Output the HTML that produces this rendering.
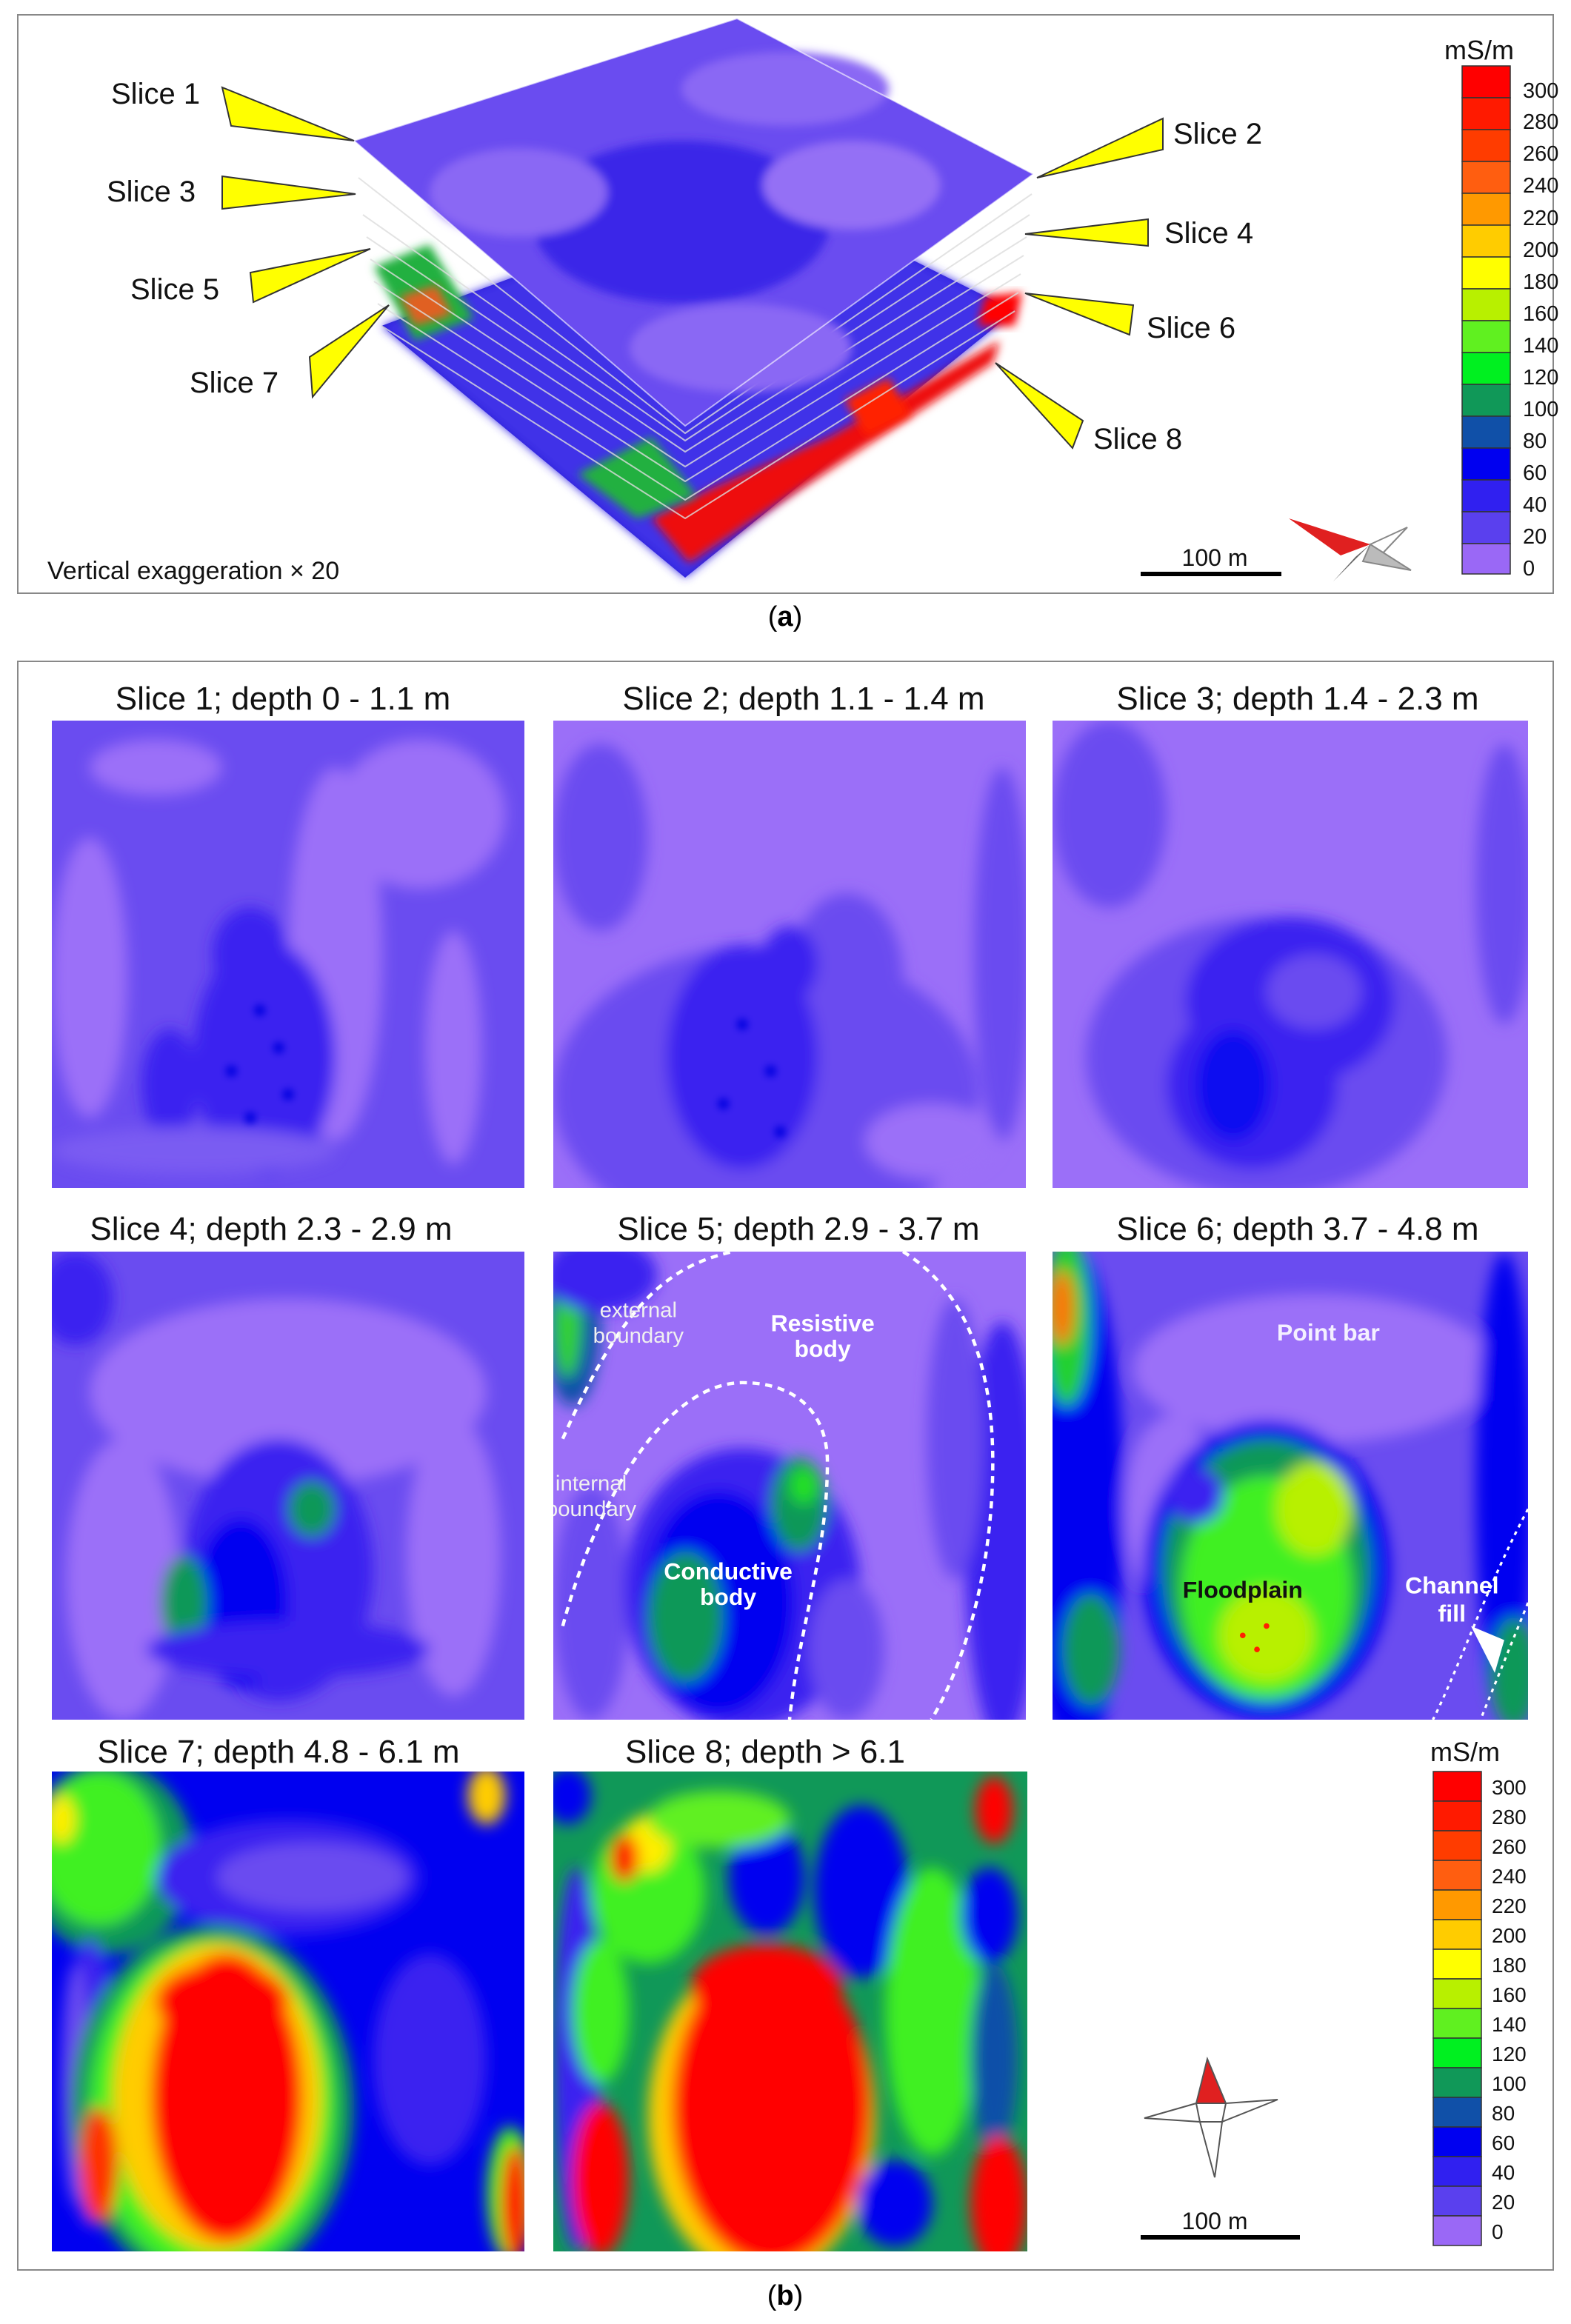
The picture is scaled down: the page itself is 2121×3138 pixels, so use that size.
<!DOCTYPE html>
<html><head><meta charset="utf-8"><style>
html,body{margin:0;padding:0;background:#fff}
svg text{font-family:"Liberation Sans",sans-serif}
</style></head><body>
<svg width="2121" height="3133" viewBox="0 0 2121 3133" xmlns="http://www.w3.org/2000/svg">
<defs>
<filter id="b" x="-20%" y="-20%" width="140%" height="140%"><feGaussianBlur stdDeviation="1.6"/></filter>
<filter id="b2" x="-20%" y="-20%" width="140%" height="140%"><feGaussianBlur stdDeviation="0.8"/></filter>
<filter id="bb" x="-20%" y="-20%" width="140%" height="140%"><feGaussianBlur stdDeviation="6"/></filter>
</defs>
<rect width="2121" height="3133" fill="#fff"/>
<!-- Panel a -->
<rect x="24" y="20" width="2073" height="781" fill="none" stroke="#888" stroke-width="2"/>
<text x="1060" y="845" font-size="38" text-anchor="middle" font-family="Liberation Serif">(<tspan font-weight="bold">a</tspan>)</text>
<!-- 3D stack -->
<g>
<polygon points="515,440 1030,250 1370,420 925,780" fill="#2a20d8"/>
<polygon points="515,440 1030,250 1370,420 925,780" fill="#4030e8" filter="url(#bb)"/>
<polygon points="880,700 960,660 1120,590 1350,460 1340,490 1020,700 930,760" fill="#ee1010" filter="url(#bb)"/>
<polygon points="780,640 880,590 940,670 860,700" fill="#20b040" filter="url(#bb)"/>
<polygon points="1140,540 1200,510 1230,560 1170,590" fill="#ff2000" filter="url(#bb)"/>
<polygon points="505,360 580,330 640,430 560,460" fill="#20b040" filter="url(#bb)"/>
<polygon points="540,400 590,385 610,425 560,440" fill="#e06020" filter="url(#bb)"/>
<polygon points="1330,400 1380,395 1370,440 1320,440" fill="#ff0000" filter="url(#bb)"/>
<g fill="none" stroke="#ddd" stroke-width="2" opacity=".8">
<polyline points="515,440 925,700 1370,420"/><polyline points="510,410 925,675 1375,395"/><polyline points="505,380 925,650 1378,370"/><polyline points="500,350 925,630 1382,345"/><polyline points="495,320 925,610 1386,320"/><polyline points="490,290 925,595 1390,290"/><polyline points="484,240 925,585 1393,262"/>
</g>
<polygon points="478,190 995,25 1395,235 925,575" fill="#6a4cf0"/>
<g filter="url(#bb)">
<ellipse cx="920" cy="300" rx="200" ry="110" fill="#3a28e8"/>
<ellipse cx="1150" cy="250" rx="120" ry="60" fill="#9470f5"/>
<ellipse cx="700" cy="260" rx="120" ry="60" fill="#8a68f4"/>
<ellipse cx="1000" cy="470" rx="150" ry="60" fill="#8a68f4"/>
<ellipse cx="1060" cy="120" rx="140" ry="50" fill="#8a68f4"/>
</g>
<polygon points="478,190 995,25 1395,235 925,575" fill="none" stroke="#fff" stroke-width="2" opacity=".6"/>
</g>
<!-- callouts -->
<g fill="#ffff00" stroke="#333" stroke-width="2">
<polygon points="300,118 312,170 478,190"/>
<polygon points="300,238 300,282 480,262"/>
<polygon points="338,368 342,408 500,336"/>
<polygon points="418,482 422,536 525,412"/>
<polygon points="1570,160 1570,202 1400,240"/>
<polygon points="1550,296 1550,332 1384,316"/>
<polygon points="1530,412 1525,452 1384,396"/>
<polygon points="1462,568 1448,605 1344,490"/>
</g>
<g font-size="40" fill="#111">
<text x="150" y="140">Slice 1</text>
<text x="144" y="272">Slice 3</text>
<text x="176" y="404">Slice 5</text>
<text x="256" y="530">Slice 7</text>
<text x="1584" y="194">Slice 2</text>
<text x="1572" y="328">Slice 4</text>
<text x="1548" y="456">Slice 6</text>
<text x="1476" y="606">Slice 8</text>
</g>
<text x="64" y="782" font-size="34" fill="#111">Vertical exaggeration × 20</text>
<text x="1640" y="764" font-size="32" text-anchor="middle" fill="#111">100 m</text>
<rect x="1540" y="772" width="190" height="6" fill="#000"/>
<g>
<polygon points="1740,700 1850,735 1810,750" fill="#e02020"/>
<polygon points="1850,735 1900,712 1862,752" fill="#fff" stroke="#888" stroke-width="2"/>
<polygon points="1850,735 1905,770 1840,758" fill="#bbb" stroke="#888" stroke-width="2"/>
<polygon points="1850,735 1800,785 1830,752" fill="#666"/>
</g>
<!-- legend a -->
<text x="1997" y="80" font-size="36" text-anchor="middle" fill="#111">mS/m</text>
<g stroke="#333" stroke-width="1.5">
<rect x="1974" y="89" width="65" height="43" fill="#ff0000"/>
<rect x="1974" y="132" width="65" height="43" fill="#ff1a00"/>
<rect x="1974" y="175" width="65" height="43" fill="#ff3c00"/>
<rect x="1974" y="218" width="65" height="43" fill="#ff5e10"/>
<rect x="1974" y="261" width="65" height="43" fill="#ff9900"/>
<rect x="1974" y="304" width="65" height="43" fill="#ffcc00"/>
<rect x="1974" y="347" width="65" height="43" fill="#ffff00"/>
<rect x="1974" y="390" width="65" height="43" fill="#b8f000"/>
<rect x="1974" y="433" width="65" height="43" fill="#60f020"/>
<rect x="1974" y="476" width="65" height="43" fill="#00f020"/>
<rect x="1974" y="519" width="65" height="43" fill="#109858"/>
<rect x="1974" y="562" width="65" height="43" fill="#1050a8"/>
<rect x="1974" y="605" width="65" height="43" fill="#0000f0"/>
<rect x="1974" y="648" width="65" height="43" fill="#3020f0"/>
<rect x="1974" y="691" width="65" height="43" fill="#5a40ee"/>
<rect x="1974" y="734" width="65" height="41" fill="#9a68f6"/>
</g>
<g font-size="29" fill="#111">
<text x="2056" y="132">300</text><text x="2056" y="174">280</text><text x="2056" y="217">260</text><text x="2056" y="260">240</text><text x="2056" y="304">220</text><text x="2056" y="347">200</text><text x="2056" y="390">180</text><text x="2056" y="433">160</text><text x="2056" y="476">140</text><text x="2056" y="519">120</text><text x="2056" y="562">100</text><text x="2056" y="605">80</text><text x="2056" y="648">60</text><text x="2056" y="691">40</text><text x="2056" y="734">20</text><text x="2056" y="777">0</text>
</g>

<!-- Panel b -->
<rect x="24" y="893" width="2073" height="2172" fill="none" stroke="#888" stroke-width="2"/>
<text x="1060" y="3112" font-size="38" text-anchor="middle" font-family="Liberation Serif">(<tspan font-weight="bold">b</tspan>)</text>
<g font-size="44" fill="#111" text-anchor="middle">
<text x="382" y="958">Slice 1; depth 0 - 1.1 m</text>
<text x="1085" y="958">Slice 2; depth 1.1 - 1.4 m</text>
<text x="1752" y="958">Slice 3; depth 1.4 - 2.3 m</text>
<text x="366" y="1674">Slice 4; depth 2.3 - 2.9 m</text>
<text x="1078" y="1674">Slice 5; depth 2.9 - 3.7 m</text>
<text x="1752" y="1674">Slice 6; depth 3.7 - 4.8 m</text>
<text x="376" y="2380">Slice 7; depth 4.8 - 6.1 m</text>
<text x="1033" y="2380">Slice 8; depth &gt; 6.1</text>
</g>

<!-- Map1 -->
<svg x="70" y="973" width="638" height="631" viewBox="0 0 100 100" preserveAspectRatio="none">
<rect width="100" height="100" fill="#6a4cf0"/>
<g filter="url(#b)">
<ellipse cx="78" cy="20" rx="18" ry="16" fill="#9b6ff8"/>
<ellipse cx="60" cy="50" rx="10" ry="40" fill="#9b6ff8"/>
<ellipse cx="85" cy="70" rx="6" ry="25" fill="#9b6ff8"/>
<ellipse cx="8" cy="55" rx="8" ry="30" fill="#9b6ff8"/>
<ellipse cx="22" cy="10" rx="14" ry="6" fill="#9b6ff8"/>
<ellipse cx="45" cy="72" rx="15" ry="25" fill="#3a22f0"/>
<ellipse cx="42" cy="50" rx="8" ry="10" fill="#3a22f0"/>
<ellipse cx="25" cy="78" rx="6" ry="12" fill="#3a22f0"/>
<ellipse cx="30" cy="92" rx="30" ry="5" fill="#7a5cf2"/>
</g>
<g fill="#0000e0" filter="url(#b2)"><circle cx="44" cy="62" r="1.2"/><circle cx="48" cy="70" r="1.2"/><circle cx="38" cy="75" r="1.2"/><circle cx="50" cy="80" r="1.2"/><circle cx="42" cy="85" r="1.2"/></g>
</svg>
<!-- Map2 -->
<svg x="747" y="973" width="638" height="631" viewBox="0 0 100 100" preserveAspectRatio="none">
<rect width="100" height="100" fill="#9b6ff8"/>
<g filter="url(#b)">
<ellipse cx="45" cy="80" rx="45" ry="32" fill="#6a4cf0"/>
<ellipse cx="62" cy="55" rx="12" ry="18" fill="#6a4cf0"/>
<ellipse cx="10" cy="25" rx="10" ry="20" fill="#6a4cf0"/>
<ellipse cx="95" cy="50" rx="6" ry="40" fill="#6a4cf0"/>
<ellipse cx="40" cy="72" rx="16" ry="24" fill="#3a22f0"/>
<ellipse cx="50" cy="52" rx="6" ry="8" fill="#3a22f0"/>
<ellipse cx="80" cy="90" rx="14" ry="8" fill="#9b6ff8"/>
</g>
<g fill="#0000e0" filter="url(#b2)"><circle cx="40" cy="65" r="1.2"/><circle cx="46" cy="75" r="1.2"/><circle cx="36" cy="82" r="1.2"/><circle cx="48" cy="88" r="1.2"/></g>
</svg>
<!-- Map3 -->
<svg x="1421" y="973" width="642" height="631" viewBox="0 0 100 100" preserveAspectRatio="none">
<rect width="100" height="100" fill="#9b6ff8"/>
<g filter="url(#b)">
<ellipse cx="12" cy="20" rx="12" ry="20" fill="#6a4cf0"/>
<ellipse cx="45" cy="72" rx="38" ry="30" fill="#6a4cf0"/>
<ellipse cx="95" cy="35" rx="6" ry="30" fill="#6a4cf0"/>
<ellipse cx="50" cy="60" rx="22" ry="18" fill="#3a22f0"/>
<ellipse cx="42" cy="78" rx="18" ry="18" fill="#3a22f0"/>
<ellipse cx="38" cy="78" rx="8" ry="12" fill="#1010f0"/>
<ellipse cx="55" cy="58" rx="10" ry="8" fill="#6a4cf0"/>
</g>
</svg>
<!-- Map4 -->
<svg x="70" y="1690" width="638" height="632" viewBox="0 0 100 100" preserveAspectRatio="none">
<rect width="100" height="100" fill="#6a4cf0"/>
<g filter="url(#b)">
<ellipse cx="50" cy="30" rx="42" ry="20" fill="#9b6ff8"/>
<ellipse cx="15" cy="70" rx="12" ry="30" fill="#9b6ff8"/>
<ellipse cx="85" cy="65" rx="10" ry="30" fill="#9b6ff8"/>
<ellipse cx="5" cy="10" rx="8" ry="10" fill="#3a22f0"/>
<ellipse cx="48" cy="68" rx="20" ry="28" fill="#3a22f0"/>
<ellipse cx="40" cy="75" rx="10" ry="18" fill="#0000f0"/>
<ellipse cx="28" cy="75" rx="5" ry="10" fill="#109858"/>
<ellipse cx="55" cy="55" rx="5" ry="6" fill="#109858"/>
<ellipse cx="50" cy="85" rx="30" ry="6" fill="#3a22f0"/>
</g>
</svg>
<!-- Map5 -->
<svg x="747" y="1690" width="638" height="632" viewBox="0 0 100 100" preserveAspectRatio="none">
<rect width="100" height="100" fill="#9b6ff8"/>
<g filter="url(#b)">
<ellipse cx="4" cy="15" rx="6" ry="18" fill="#1050a8"/>
<ellipse cx="3" cy="15" rx="3" ry="12" fill="#30d030"/>
<ellipse cx="10" cy="5" rx="12" ry="8" fill="#3a22f0"/>
<ellipse cx="95" cy="60" rx="8" ry="45" fill="#3a22f0"/>
<ellipse cx="85" cy="40" rx="6" ry="30" fill="#6a4cf0"/>
<ellipse cx="8" cy="75" rx="8" ry="25" fill="#6a4cf0"/>
<ellipse cx="40" cy="72" rx="25" ry="30" fill="#3a22f0"/>
<ellipse cx="35" cy="75" rx="16" ry="24" fill="#0000f0"/>
<ellipse cx="28" cy="78" rx="8" ry="14" fill="#109858"/>
<ellipse cx="52" cy="54" rx="6" ry="10" fill="#109858"/>
<ellipse cx="53" cy="50" rx="3" ry="4" fill="#20e020"/>
<ellipse cx="62" cy="85" rx="8" ry="15" fill="#6a4cf0"/>
</g>
<g fill="none" stroke="#fff" stroke-width="0.7" stroke-dasharray="1.5,1.2">
<path d="M2,40 C15,10 25,3 38,0"/>
<path d="M2,80 C10,50 25,28 40,28 C52,28 58,35 58,45 C58,65 52,80 50,100"/>
<path d="M74,0 C90,10 93,30 93,45 C93,70 86,90 80,100"/>
</g>
<g fill="#fff" font-size="4.6" text-anchor="middle">
<text x="18" y="14" fill="#f0f0f0">external</text><text x="18" y="19.5" fill="#f0f0f0">boundary</text>
<text x="57" y="17" font-weight="bold" font-size="5">Resistive</text><text x="57" y="22.5" font-weight="bold" font-size="5">body</text>
<text x="8" y="51" fill="#f0f0f0">internal</text><text x="8" y="56.5" fill="#f0f0f0">boundary</text>
<text x="37" y="70" font-weight="bold" font-size="5">Conductive</text><text x="37" y="75.5" font-weight="bold" font-size="5">body</text>
</g>
</svg>
<!-- Map6 -->
<svg x="1421" y="1690" width="642" height="632" viewBox="0 0 100 100" preserveAspectRatio="none">
<rect width="100" height="100" fill="#6a4cf0"/>
<g filter="url(#b)">
<ellipse cx="5" cy="55" rx="10" ry="55" fill="#0000f0"/>
<ellipse cx="3" cy="15" rx="5" ry="18" fill="#20d030"/>
<ellipse cx="2" cy="12" rx="2.5" ry="8" fill="#ff7000"/>
<ellipse cx="55" cy="25" rx="38" ry="16" fill="#9b6ff8"/>
<ellipse cx="25" cy="55" rx="10" ry="20" fill="#9b6ff8"/>
<ellipse cx="95" cy="50" rx="6" ry="50" fill="#0000f0"/>
<ellipse cx="97" cy="90" rx="5" ry="12" fill="#109858"/>
<ellipse cx="45" cy="68" rx="26" ry="32" fill="#0000f0"/>
<ellipse cx="45" cy="68" rx="22" ry="28" fill="#109858"/>
<ellipse cx="45" cy="72" rx="18" ry="24" fill="#40f020"/>
<ellipse cx="55" cy="55" rx="8" ry="10" fill="#b8f000"/>
<ellipse cx="45" cy="82" rx="10" ry="10" fill="#b8f000"/>
<ellipse cx="30" cy="52" rx="6" ry="6" fill="#3a22f0"/>
<ellipse cx="8" cy="85" rx="6" ry="12" fill="#109858"/>
</g>
<g fill="#ff2000"><circle cx="45" cy="80" r="0.6"/><circle cx="43" cy="85" r="0.6"/><circle cx="40" cy="82" r="0.6"/></g>
<g fill="none" stroke="#fff" stroke-width="0.5" stroke-dasharray="0.8,1">
<path d="M100,55 C92,70 85,90 80,100"/><path d="M100,75 C96,85 92,95 90,100"/>
</g>
<polygon points="88,80 95,83 93,90" fill="#fff"/>
<g font-weight="bold" text-anchor="middle" font-size="5">
<text x="58" y="19" fill="#f4f0ff">Point bar</text>
<text x="40" y="74" fill="#111">Floodplain</text>
<text x="84" y="73" fill="#fff">Channel</text><text x="84" y="79" fill="#fff">fill</text>
</g>
</svg>
<!-- Map7 -->
<svg x="70" y="2392" width="638" height="648" viewBox="0 0 100 100" preserveAspectRatio="none">
<rect width="100" height="100" fill="#0000f0"/>
<g filter="url(#b)">
<ellipse cx="12" cy="18" rx="18" ry="20" fill="#109858"/>
<ellipse cx="10" cy="16" rx="13" ry="16" fill="#40f020"/>
<ellipse cx="2" cy="10" rx="3" ry="5" fill="#ffee00"/>
<ellipse cx="50" cy="22" rx="28" ry="12" fill="#3a22f0"/>
<ellipse cx="55" cy="22" rx="20" ry="7" fill="#6a4cf0"/>
<ellipse cx="8" cy="65" rx="6" ry="30" fill="#3a22f0"/>
<ellipse cx="5" cy="65" rx="3" ry="25" fill="#6a4cf0"/>
<ellipse cx="80" cy="60" rx="12" ry="22" fill="#3a22f0"/>
<ellipse cx="34" cy="70" rx="30" ry="38" fill="#109858"/>
<ellipse cx="34" cy="70" rx="26" ry="35" fill="#40f020"/>
<ellipse cx="35" cy="68" rx="22" ry="32" fill="#ffcc00"/>
<ellipse cx="37" cy="68" rx="16" ry="30" fill="#ff0000"/>
<ellipse cx="36" cy="48" rx="14" ry="8" fill="#ff0000"/>
<ellipse cx="10" cy="82" rx="4" ry="12" fill="#ff3000"/>
<ellipse cx="97" cy="88" rx="5" ry="14" fill="#40f020"/>
<ellipse cx="98" cy="90" rx="3" ry="12" fill="#ff0000"/>
<ellipse cx="92" cy="5" rx="4" ry="6" fill="#ffcc00"/>
</g>
</svg>
<!-- Map8 -->
<svg x="747" y="2392" width="640" height="648" viewBox="0 0 100 100" preserveAspectRatio="none">
<rect width="100" height="100" fill="#109858"/>
<g filter="url(#b)">
<ellipse cx="20" cy="25" rx="12" ry="15" fill="#40f020"/>
<ellipse cx="20" cy="15" rx="5" ry="6" fill="#ffee00"/>
<ellipse cx="45" cy="22" rx="8" ry="12" fill="#0000f0"/>
<ellipse cx="65" cy="25" rx="10" ry="18" fill="#0000f0"/>
<ellipse cx="35" cy="10" rx="15" ry="6" fill="#60f020"/>
<ellipse cx="80" cy="50" rx="10" ry="30" fill="#40f020"/>
<ellipse cx="92" cy="30" rx="6" ry="10" fill="#0000f0"/>
<ellipse cx="93" cy="60" rx="5" ry="20" fill="#1050a8"/>
<ellipse cx="5" cy="60" rx="5" ry="40" fill="#3a22f0"/>
<ellipse cx="3" cy="5" rx="5" ry="6" fill="#0000f0"/>
<ellipse cx="10" cy="50" rx="6" ry="15" fill="#40f020"/>
<ellipse cx="44" cy="72" rx="24" ry="34" fill="#ffcc00"/>
<ellipse cx="46" cy="70" rx="21" ry="33" fill="#ff0000"/>
<ellipse cx="45" cy="45" rx="16" ry="9" fill="#ff0000"/>
<ellipse cx="10" cy="85" rx="6" ry="16" fill="#ff0000"/>
<ellipse cx="15" cy="18" rx="3" ry="5" fill="#ff0000"/>
<ellipse cx="93" cy="8" rx="4" ry="7" fill="#ff0000"/>
<ellipse cx="94" cy="90" rx="6" ry="14" fill="#ff0000"/>
<ellipse cx="72" cy="90" rx="8" ry="9" fill="#0000f0"/>
</g>
</svg>
<!-- legend b -->
<text x="1978" y="2378" font-size="36" text-anchor="middle" fill="#111">mS/m</text>
<g stroke="#333" stroke-width="1.5">
<rect x="1935" y="2392" width="65" height="40" fill="#ff0000"/>
<rect x="1935" y="2432" width="65" height="40" fill="#ff1a00"/>
<rect x="1935" y="2472" width="65" height="40" fill="#ff3c00"/>
<rect x="1935" y="2512" width="65" height="40" fill="#ff5e10"/>
<rect x="1935" y="2552" width="65" height="40" fill="#ff9900"/>
<rect x="1935" y="2592" width="65" height="40" fill="#ffcc00"/>
<rect x="1935" y="2632" width="65" height="40" fill="#ffff00"/>
<rect x="1935" y="2672" width="65" height="40" fill="#b8f000"/>
<rect x="1935" y="2712" width="65" height="40" fill="#60f020"/>
<rect x="1935" y="2752" width="65" height="40" fill="#00f020"/>
<rect x="1935" y="2792" width="65" height="40" fill="#109858"/>
<rect x="1935" y="2832" width="65" height="40" fill="#1050a8"/>
<rect x="1935" y="2872" width="65" height="40" fill="#0000f0"/>
<rect x="1935" y="2912" width="65" height="40" fill="#3020f0"/>
<rect x="1935" y="2952" width="65" height="40" fill="#5a40ee"/>
<rect x="1935" y="2992" width="65" height="40" fill="#9a68f6"/>
</g>
<g font-size="28" fill="#111">
<text x="2014" y="2423">300</text><text x="2014" y="2463">280</text><text x="2014" y="2503">260</text><text x="2014" y="2543">240</text><text x="2014" y="2583">220</text><text x="2014" y="2623">200</text><text x="2014" y="2663">180</text><text x="2014" y="2703">160</text><text x="2014" y="2743">140</text><text x="2014" y="2783">120</text><text x="2014" y="2823">100</text><text x="2014" y="2863">80</text><text x="2014" y="2903">60</text><text x="2014" y="2943">40</text><text x="2014" y="2983">20</text><text x="2014" y="3023">0</text>
</g>
<!-- compass b -->
<g stroke="#555" stroke-width="2">
<polygon points="1630,2780 1655,2840 1615,2840" fill="#e02020"/>
<polygon points="1615,2840 1545,2860 1620,2865" fill="#fff"/>
<polygon points="1655,2840 1725,2835 1650,2865" fill="#fff"/>
<polygon points="1620,2865 1640,2940 1650,2865" fill="#fff"/>
</g>
<text x="1640" y="3010" font-size="32" text-anchor="middle" fill="#111">100 m</text>
<rect x="1540" y="3018" width="215" height="6" fill="#000"/>
</svg>
</body></html>
